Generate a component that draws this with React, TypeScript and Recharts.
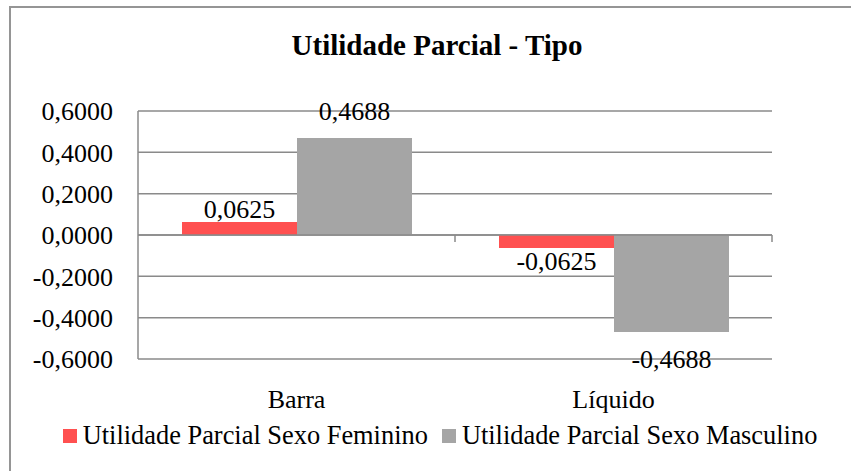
import {
  Bar,
  BarChart,
  CartesianGrid,
  LabelList,
  Legend,
  ReferenceLine,
  XAxis,
  YAxis,
} from "recharts";

const categories = ["Barra", "Líquido"];
const feminino = [0.0625, -0.0625];
const masculino = [0.4688, -0.4688];
const yTicks = [-0.6, -0.4, -0.2, 0, 0.2, 0.4, 0.6];

const FEMININO_NAME = "Utilidade Parcial Sexo Feminino";
const MASCULINO_NAME = "Utilidade Parcial Sexo Masculino";

const FONT = '"Liberation Serif", "Times New Roman", serif';
const GRID = "#8a8a8a";
const RED = "#ff5050";
const GRAY = "#a5a5a5";

const data = categories.map((name, i) => ({
  name,
  feminino: feminino[i],
  masculino: masculino[i],
}));

const fmt = (v: number) => v.toFixed(4).replace(".", ",");

function makeLabel(gap: number) {
  return (props: any) => {
    const { x, y, width, height, value } = props;
    const top = Math.min(y, y + height);
    const bottom = Math.max(y, y + height);
    const cx = x + width / 2;
    const v = Number(value);
    return (
      <text
        x={cx}
        y={v >= 0 ? top - gap : bottom + gap}
        dy={v >= 0 ? 0 : "0.68em"}
        textAnchor="middle"
        fontFamily={FONT}
        fontSize={26}
        fill="#000"
      >
        {fmt(v)}
      </text>
    );
  };
}

function CategoryTick(props: any) {
  const { x, y, payload } = props;
  return (
    <text
      x={x}
      y={y}
      dy={41}
      textAnchor="middle"
      fontFamily={FONT}
      fontSize={26}
      fill="#000"
    >
      {payload.value}
    </text>
  );
}

// zero line with small category-boundary ticks pointing down
function ZeroLine(props: any) {
  const { x1, y1, x2, y2 } = props;
  if (x1 == null || y1 == null) return null;
  const step = (x2 - x1) / categories.length;
  const marks = categories.map((_, i) => x1 + step * (i + 1));
  return (
    <g>
      <line x1={x1} y1={y1} x2={x2} y2={y2} stroke={GRID} strokeWidth={1.5} />
      {marks.map((mx, i) => (
        <line
          key={i}
          x1={mx}
          y1={y1}
          x2={mx}
          y2={y1 + 7}
          stroke={GRID}
          strokeWidth={1.5}
        />
      ))}
    </g>
  );
}

function LegendContent() {
  const items = [
    { name: FEMININO_NAME, color: RED },
    { name: MASCULINO_NAME, color: GRAY },
  ];
  return (
    <div
      style={{
        display: "flex",
        justifyContent: "center",
        alignItems: "center",
        fontFamily: FONT,
        fontSize: 26.4,
        lineHeight: "27px",
        color: "#000",
        whiteSpace: "nowrap",
      }}
    >
      {items.map((it, i) => (
        <span
          key={it.name}
          style={{
            display: "flex",
            alignItems: "center",
            marginLeft: i === 0 ? 0 : 14,
          }}
        >
          <span
            style={{
              width: 14,
              height: 14,
              background: it.color,
              marginRight: 6,
              display: "inline-block",
            }}
          />
          {it.name}
        </span>
      ))}
    </div>
  );
}

export default function App() {
  return (
    <div
      style={{
        position: "absolute",
        left: 0,
        top: 0,
        width: 851,
        height: 471,
        overflow: "hidden",
        background: "#fff",
      }}
    >
      <div
        style={{
          position: "absolute",
          left: 9,
          top: 6,
          width: 880,
          height: 500,
          borderLeft: "2px solid #959595",
          borderTop: "2px solid #959595",
        }}
      />
      <div
        style={{
          position: "absolute",
          left: 0,
          top: 31,
          width: 874,
          textAlign: "center",
          fontFamily: FONT,
          fontWeight: "bold",
          fontSize: 29,
          lineHeight: "29px",
          color: "#000",
        }}
      >
        Utilidade Parcial - Tipo
      </div>
      <div style={{ position: "absolute", left: 0, top: 0 }}>
        <BarChart
          width={851}
          height={471}
          data={data}
          margin={{ top: 111, right: 79, bottom: 0, left: 0 }}
          barCategoryGap={44}
          barGap={0}
        >
          <CartesianGrid vertical={false} stroke={GRID} strokeWidth={1.5} />
          <XAxis
            dataKey="name"
            axisLine={false}
            tickLine={false}
            height={112}
            interval={0}
            tick={<CategoryTick />}
          />
          <YAxis
            width={138}
            domain={[-0.6, 0.6]}
            ticks={yTicks}
            tickFormatter={fmt}
            axisLine={{ stroke: GRID, strokeWidth: 1.5 }}
            tickLine={false}
            tickMargin={19}
            tick={{ fill: "#000", fontSize: 26, fontFamily: FONT }}
          />
          <ReferenceLine y={0} shape={<ZeroLine />} />
          <Legend
            verticalAlign="middle"
            align="center"
            layout="horizontal"
            content={<LegendContent />}
            wrapperStyle={{ position: "absolute", top: 422, left: 0, width: 880 }}
          />
          <Bar
            dataKey="feminino"
            name={FEMININO_NAME}
            fill={RED}
            isAnimationActive={false}
          >
            <LabelList dataKey="feminino" content={makeLabel(4.5)} />
          </Bar>
          <Bar
            dataKey="masculino"
            name={MASCULINO_NAME}
            fill={GRAY}
            isAnimationActive={false}
          >
            <LabelList dataKey="masculino" content={makeLabel(18)} />
          </Bar>
        </BarChart>
      </div>
    </div>
  );
}
